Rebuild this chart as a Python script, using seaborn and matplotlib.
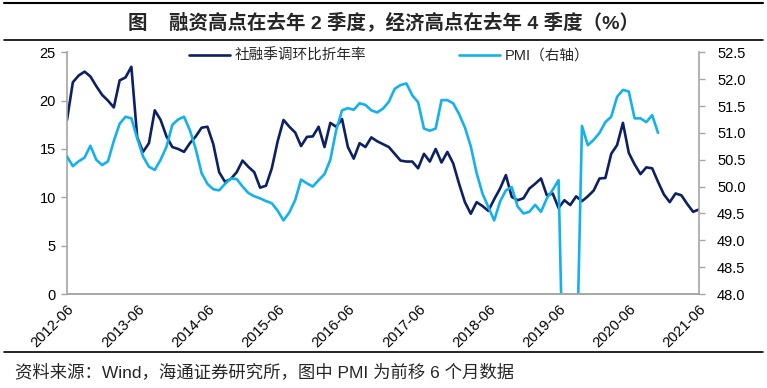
import numpy as np
import pandas as pd
import matplotlib
matplotlib.use("Agg")
import matplotlib.pyplot as plt
from matplotlib.lines import Line2D
import seaborn as sns

# monthly data, 2012-06 .. 2021-06
tick_years = list(range(2012, 2022))
tick_labels = [f"{y}-06" for y in tick_years]

tsf = [18.0, 21.9, 22.6, 23.0, 22.5, 21.5, 20.6, 20.0, 19.3, 22.1,
       22.4, 23.5, 16.2, 14.7, 15.6, 19.0, 18.0, 16.3, 15.2, 15.0,
       14.7, 15.6, 16.3, 17.2, 17.3, 15.5, 12.6, 11.6, 11.9, 12.6,
       13.8, 13.15, 12.6, 11.0, 11.2, 13.0, 15.8, 18.0, 17.3, 16.7,
       15.3, 16.25, 16.3, 17.3, 15.2, 17.7, 17.3, 18.1, 15.2, 14.0,
       15.6, 15.2, 16.2, 15.8, 15.5, 15.2, 14.5, 13.8, 13.7, 13.7,
       13.0, 14.5, 13.7, 15.0, 13.6, 14.7, 13.5, 11.4, 9.5, 8.3,
       9.5, 9.1, 8.6, 9.8, 10.9, 12.3, 10.05, 9.7, 9.9, 10.9,
       11.4, 11.95, 10.2, 10.4, 8.9, 9.7, 9.2, 10.1, 9.6, 10.1,
       10.7, 11.95, 12.0, 14.5, 15.4, 17.7, 14.6, 13.4, 12.4, 13.1,
       13.0, 11.6, 10.3, 9.5, 10.4, 10.2, 9.3, 8.5, 8.75]

# PMI (3m avg, shifted 6 months earlier)
pmi = [50.56, 50.38, 50.47, 50.54, 50.76, 50.50, 50.40, 50.47, 50.85, 51.17,
       51.30, 51.27, 50.90, 50.56, 50.37, 50.31, 50.50, 50.74, 51.15, 51.25,
       51.30, 51.05, 50.70, 50.25, 50.05, 49.95, 49.93, 50.05, 50.15, 50.14,
       50.00, 49.88, 49.82, 49.78, 49.73, 49.69, 49.55, 49.37, 49.52, 49.75,
       50.13, 50.06, 50.00, 50.12, 50.23, 50.50, 51.05, 51.42, 51.46, 51.43,
       51.55, 51.52, 51.42, 51.38, 51.45, 51.58, 51.82, 51.89, 51.92, 51.70,
       51.57, 51.08, 51.04, 51.08, 51.61, 51.61, 51.55, 51.35, 51.10, 50.75,
       50.25, 49.87, 49.62, 49.37, 49.72, 49.93, 49.99, 49.63, 49.50, 49.53,
       49.66, 49.53, 49.78, 49.94, 50.12, 45.3, 45.9, 46.2, 51.13, 50.77,
       50.87, 51.00, 51.20, 51.30, 51.67, 51.80, 51.77, 51.27, 51.27, 51.20,
       51.33, 51.00]
pmi = pmi + [np.nan] * (len(tsf) - len(pmi))

df = pd.DataFrame({"month": np.arange(len(tsf)), "tsf": tsf, "pmi": pmi})

sns.set_theme(style="white")
plt.rcParams["font.family"] = ["Liberation Sans", "Noto Sans CJK SC"]

navy = "#0c2163"
sky = "#14b1ec"
grey = "#a6a6a6"

fig = plt.figure(figsize=(7.67, 3.88), dpi=100)
ax = fig.add_axes([67 / 767, 1 - 294 / 388, 632 / 767, (294 - 52.3) / 388])
ax2 = ax.twinx()

sns.lineplot(data=df, x="month", y="tsf", ax=ax, color=navy, lw=1.9, legend=False)
sns.lineplot(data=df.dropna(), x="month", y="pmi", ax=ax2, color=sky, lw=1.9, legend=False)

ax.set_xlim(0, len(tsf) - 1)
ax.set_ylim(0, 25)
ax.set_yticks(range(0, 26, 5))
ax2.set_ylim(48, 52.5)
ax2.set_yticks(np.arange(48, 52.51, 0.5))
ax2.set_yticklabels([f"{v:.1f}" for v in np.arange(48, 52.51, 0.5)])

ax.set_xticks(range(0, len(tsf), 12))
ax.set_xticklabels(tick_labels, rotation=45, ha="right", rotation_mode="anchor")
ax.set_xlabel("")
ax.set_ylabel("")
ax2.set_ylabel("")

for a in (ax, ax2):
    a.spines["top"].set_visible(False)
    for s in ("left", "right", "bottom"):
        a.spines[s].set_color(grey)
        a.spines[s].set_linewidth(1.2)
ax2.spines["left"].set_visible(False)
ax.spines["right"].set_visible(False)

ax.tick_params(axis="x", length=0, pad=6, labelsize=10.5, colors="black")
ax.tick_params(axis="y", left=True, length=4, width=1, color=grey, pad=4,
               labelsize=10.5, labelcolor="black")
ax2.tick_params(axis="y", right=True, length=4, width=1, color=grey, pad=9,
                labelsize=10.5, labelcolor="black")

handles = [Line2D([], [], color=navy, lw=1.9), Line2D([], [], color=sky, lw=1.9)]
ax2.legend(handles, ["社融季调环比折年率", "PMI（右轴）"], loc="center",
           bbox_to_anchor=(0.51, 0.985), ncol=2, frameon=False, fontsize=10.5,
           handlelength=2.8, handletextpad=0.3, columnspacing=6.4)

# title bar
fig.add_artist(Line2D([0.005, 0.995], [1 - 3 / 388, 1 - 3 / 388],
                      transform=fig.transFigure, color="black", lw=1.5))
fig.add_artist(Line2D([0.005, 0.995], [1 - 40 / 388, 1 - 40 / 388],
                      transform=fig.transFigure, color="black", lw=1.2))
fig.text(0.5, 1 - 22 / 388, "图    融资高点在去年 2 季度，经济高点在去年 4 季度（%）",
         ha="center", va="center", fontsize=14, fontweight="bold")

# source
fig.add_artist(Line2D([0.005, 0.995], [1 - 352 / 388, 1 - 352 / 388],
                      transform=fig.transFigure, color="black", lw=1.2))
fig.text(15 / 767, 1 - 372 / 388, "资料来源：Wind，海通证券研究所，图中 PMI 为前移 6 个月数据",
         ha="left", va="center", fontsize=12.5)

fig.savefig("out.png", dpi=100)
